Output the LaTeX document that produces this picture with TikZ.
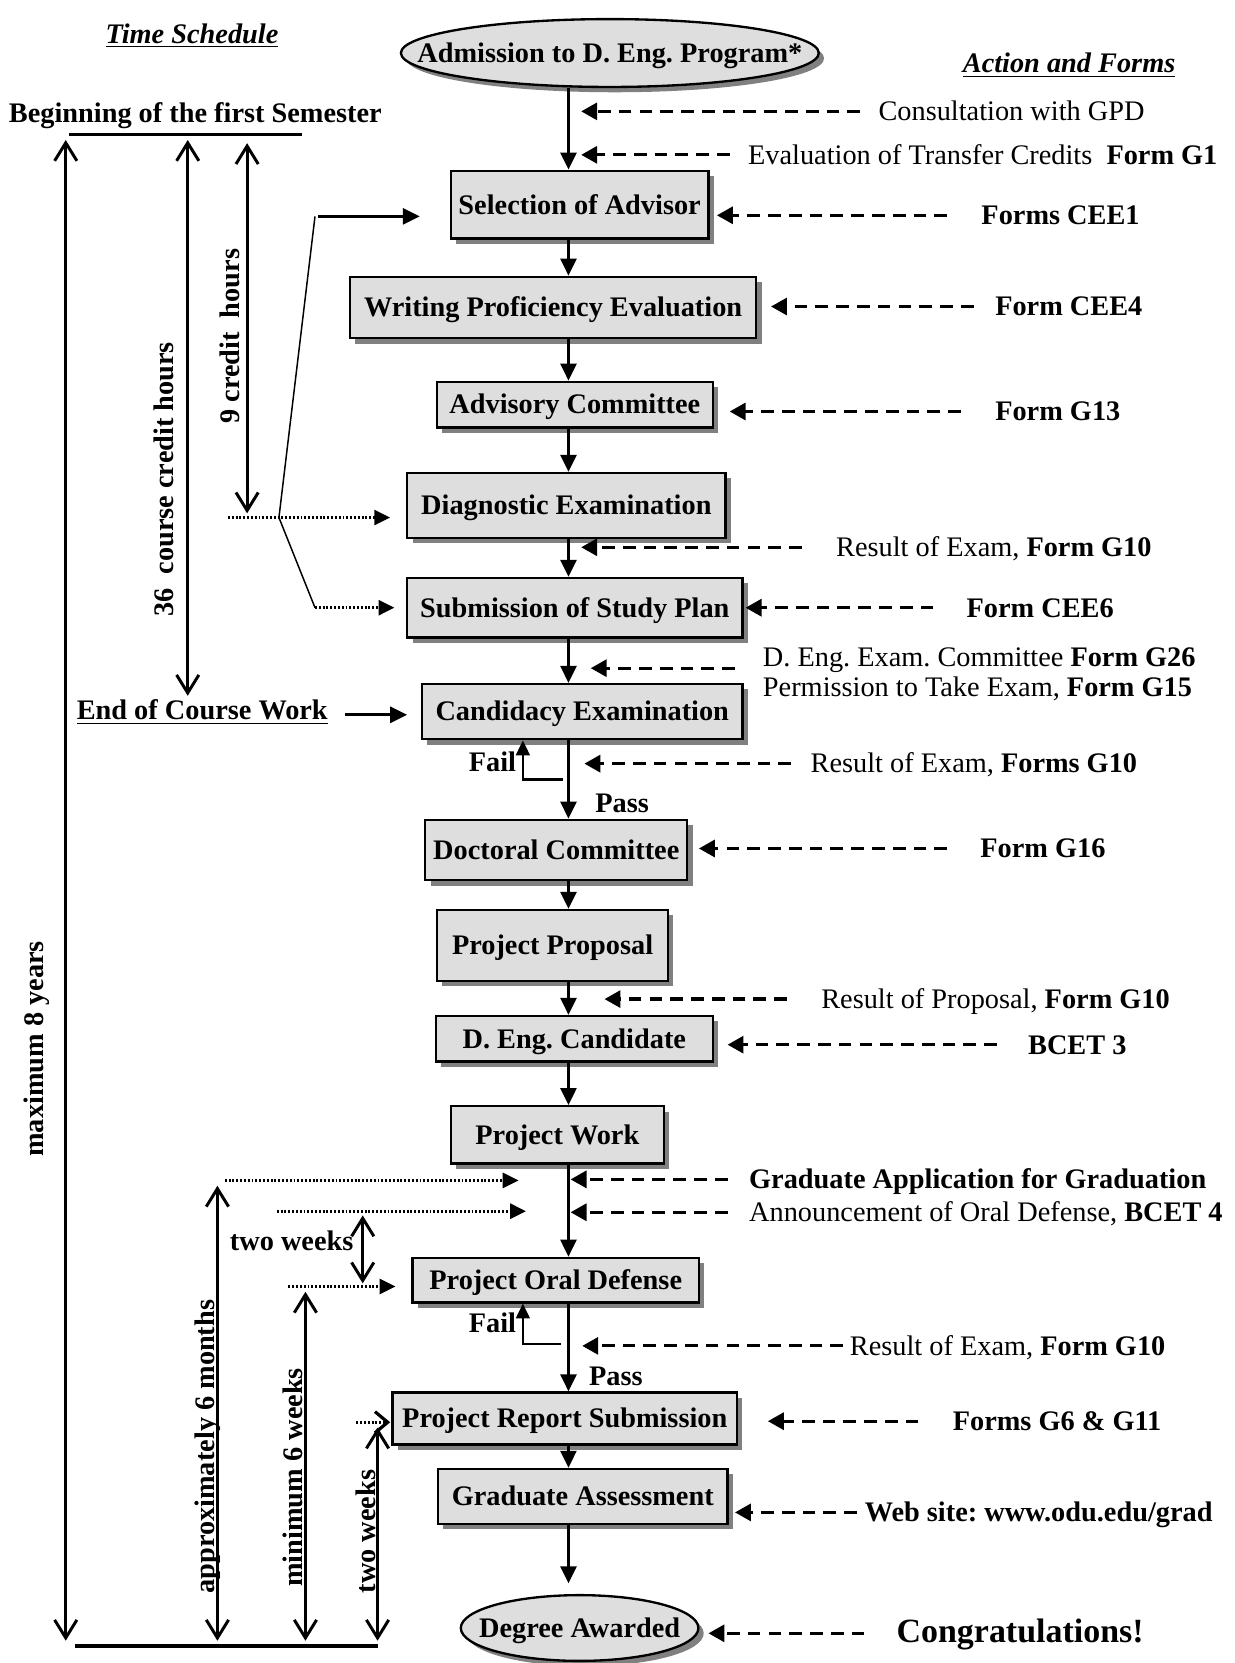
\documentclass[tikz,border=0pt]{standalone}
\usepackage{fontspec}
\setmainfont{Liberation Serif}
\usetikzlibrary{arrows.meta,shapes.geometric,shadows}
\definecolor{boxgray}{HTML}{DEDEDE}
\definecolor{shgray}{HTML}{808080}
\newcommand\msize{\fontsize{13.35}{16}\selectfont}
\newcommand\bsize{\fontsize{16}{19}\selectfont}
\frenchspacing
\tikzset{
  procbox/.style={rectangle, draw, line width=1.1pt, fill=boxgray, inner sep=0pt,
    font=\msize\bfseries, text height=11pt, text depth=2.2pt,
    drop shadow={shadow xshift=2.5pt, shadow yshift=-2.5pt, fill=shgray, opacity=1}},
  ovalbox/.style={ellipse, draw, line width=1.1pt, fill=boxgray, inner sep=0pt,
    font=\msize\bfseries, text height=11pt, text depth=2.2pt,
    drop shadow={shadow xshift=2.5pt, shadow yshift=-2.5pt, fill=shgray, opacity=1}},
  lab/.style={font=\msize, inner sep=0pt, text height=11pt, text depth=2.2pt},
  blab/.style={font=\msize\bfseries, inner sep=0pt, text height=11pt, text depth=2.2pt},
  flow/.style={line width=1.3pt, -{Triangle[length=8pt,width=7.5pt]}},
  failarr/.style={line width=1pt, -{Triangle[length=7pt,width=6.5pt]}},
  dasharr/.style={line width=1.5pt, dash pattern=on 6pt off 3.8pt, -{Triangle[length=7.5pt,width=8pt]}},
  dotarr/.style={line width=1.5pt, dash pattern=on 0.9pt off 0.9pt, -{Triangle[length=7.5pt,width=7pt]}},
  dotopen/.style={line width=1.5pt, dash pattern=on 0.9pt off 0.9pt, -{Straight Barb[length=6pt,width=10pt]}},
  timearr/.style={line width=1.4pt, {Straight Barb[length=8.5pt,width=10.5pt]}-{Straight Barb[length=8.5pt,width=10.5pt]}},
  rule/.style={line width=1.6pt},
  thin/.style={line width=0.7pt}
}
\begin{document}
\begin{tikzpicture}[x=0.5pt,y=-0.5pt]
\useasboundingbox (0,0) rectangle (1164,1568);
\fill[white] (0,0) rectangle (1164,1568);

% ---------- headings ----------
\node[blab, font=\msize\bfseries\itshape] (ts) at (181,32) {\underline{Time Schedule}};
\node[blab, font=\msize\bfseries\itshape] (af) at (1008,60) {\underline{Action and Forms}};
\node[blab, anchor=west] (beg) at (8,107) {Beginning of the first Semester};
\node[blab, anchor=west] (eoc) at (72,670) {\underline{End of Course Work}};

% ---------- main column ----------
\coordinate (cx) at (536,0);
\node[ovalbox, minimum width=197pt, minimum height=32pt] (adm) at (575,50) {\makebox[0pt][c]{Admission to D. Eng. Program*}};
\node[procbox, minimum width=121.5pt, minimum height=32pt] (sel) at (546.5,193) {Selection of Advisor};
\node[procbox, minimum width=191.5pt, minimum height=29pt] (wri) at (521.5,290) {Writing Proficiency Evaluation};
\node[procbox, minimum width=130pt, minimum height=21.5pt] (adv) at (542,381.5) {Advisory Committee};
\node[procbox, minimum width=150pt, minimum height=30.5pt] (dia) at (534,476.5) {Diagnostic Examination};
\node[procbox, minimum width=158pt, minimum height=28pt] (sub) at (542,573) {Submission of Study Plan};
\node[procbox, minimum width=151pt, minimum height=26pt] (can) at (549,671) {Candidacy Examination};
\node[procbox, minimum width=123.5pt, minimum height=28.5pt] (doc) at (524.5,801.5) {Doctoral Committee};
\node[procbox, minimum width=109pt, minimum height=33.5pt] (pro) at (521,891.5) {Project Proposal};
\node[procbox, minimum width=130.5pt, minimum height=21.5pt] (cand) at (541.5,979.5) {D. Eng. Candidate};
\node[procbox, minimum width=100.5pt, minimum height=27pt] (work) at (525.5,1070) {Project Work};
\node[procbox, minimum width=135pt, minimum height=21pt] (oral) at (524,1207) {Project Oral Defense};
\node[procbox, minimum width=162.5pt, minimum height=24.5pt] (rep) at (532.5,1337.5) {Project Report Submission};
\node[procbox, minimum width=136.5pt, minimum height=26pt] (ass) at (549.5,1411) {Graduate Assessment};
\node[ovalbox, minimum width=112pt, minimum height=31pt] (deg) at (546.5,1535) {\makebox[0pt][c]{Degree Awarded}};

\draw[flow] (adm.south -| cx) -- (sel.north -| cx);
\draw[flow] (sel.south -| cx) -- (wri.north -| cx);
\draw[flow] (wri.south -| cx) -- (adv.north -| cx);
\draw[flow] (adv.south -| cx) -- (dia.north -| cx);
\draw[flow] (dia.south -| cx) -- (sub.north -| cx);
\draw[flow] (sub.south -| cx) -- (can.north -| cx);
\draw[flow] (can.south -| cx) -- (doc.north -| cx);
\draw[flow] (doc.south -| cx) -- (pro.north -| cx);
\draw[flow] (pro.south -| cx) -- (cand.north -| cx);
\draw[flow] (cand.south -| cx) -- (work.north -| cx);
\draw[flow] (work.south -| cx) -- (oral.north -| cx);
\draw[flow] (oral.south -| cx) -- (rep.north -| cx);
\draw[flow] (rep.south -| cx) -- (ass.north -| cx);
\draw[flow, shorten >=5pt] (ass.south -| cx) -- (deg.north -| cx);

% fail loops
\coordinate (fx) at (493,0);
\coordinate (f1) at (531,735);
\draw[failarr] (f1) -| (can.south -| fx);
\node[blab, anchor=east] (fail1) at (487,719) {Fail};
\node[blab, anchor=west] (pass1) at (561,757) {Pass};
\coordinate (f2) at (529,1267);
\draw[failarr] (f2) -| (oral.south -| fx);
\node[blab, anchor=east] (fail2) at (487,1248) {Fail};
\node[blab, anchor=west] (pass2) at (555,1298) {Pass};

% ---------- right side: actions and forms ----------
\node[lab, anchor=west] (t1) at (828,105) {Consultation with GPD};
\coordinate (e1) at (548,105);
\draw[dasharr, shorten <=8.5pt] (t1.west) -- (e1);

\node[lab, anchor=west] (t2) at (705,146) {Evaluation of Transfer Credits\ \ \textbf{Form G1}};
\coordinate (e2) at (548,146);
\draw[dasharr, shorten <=8.5pt] (t2.west) -- (e2);

\node[blab, anchor=west] (t3) at (925,203) {Forms CEE1};
\coordinate (e3) at (676,203);
\draw[dasharr, shorten <=16pt] (t3.west) -- (e3);

\node[blab, anchor=west] (t4) at (938,289) {Form CEE4};
\coordinate (e4) at (727,289);
\draw[dasharr, shorten <=10pt] (t4.west) -- (e4);

\node[blab, anchor=west] (t5) at (938,388) {Form G13};
\coordinate (e5) at (688,388);
\draw[dasharr, shorten <=16pt] (t5.west) -- (e5);

\node[lab, anchor=west] (t6) at (788,516) {Result of Exam, \textbf{Form G10}};
\coordinate (e6) at (548,516);
\draw[dasharr, shorten <=16pt] (t6.west) -- (e6);

\node[blab, anchor=west] (t7) at (911,573) {Form CEE6};
\coordinate (e7) at (703,573);
\draw[dasharr, shorten <=15.5pt] (t7.west) -- (e7);

\node[lab, anchor=west] (t8a) at (719,620) {D. Eng. Exam. Committee \textbf{Form G26}};
\node[lab, anchor=west] (t8b) at (719,648) {Permission to Take Exam, \textbf{Form G15}};
\coordinate (e8) at (557,630);
\draw[dasharr, shorten <=13pt] (t8a.west |- e8) -- (e8);

\node[lab, anchor=west] (t9) at (764,720) {Result of Exam, \textbf{Forms G10}};
\coordinate (e9) at (551,720);
\draw[dasharr, shorten <=9pt] (t9.west) -- (e9);

\node[blab, anchor=west] (t10) at (924,800) {Form G16};
\coordinate (e10) at (659,800);
\draw[dasharr, shorten <=15.5pt] (t10.west) -- (e10);

\node[lab, anchor=west] (t11) at (774,942) {Result of Proposal, \textbf{Form G10}};
\coordinate (e11) at (570,942);
\draw[dasharr, shorten <=16pt] (t11.west) -- (e11);

\node[blab, anchor=west] (t12) at (969,985) {BCET 3};
\coordinate (e12) at (686,985);
\draw[dasharr, shorten <=14.5pt] (t12.west) -- (e12);

\node[blab, anchor=west] (t13) at (706,1112) {Graduate Application for Graduation};
\coordinate (e13) at (538,1112);
\draw[dasharr, shorten <=10pt] (t13.west) -- (e13);

\node[lab, anchor=west] (t14) at (706,1143) {Announcement of Oral Defense, \textbf{BCET 4}};
\coordinate (e14) at (538,1143);
\draw[dasharr, shorten <=10pt] (t14.west) -- (e14);

\node[lab, anchor=west] (t15) at (801,1269) {Result of Exam, \textbf{Form G10}};
\coordinate (e15) at (549,1269);
\draw[dasharr, shorten <=3pt] (t15.west) -- (e15);

\node[blab, anchor=west] (t16) at (898,1340) {Forms G6 \& G11};
\coordinate (e16) at (724,1340);
\draw[dasharr, shorten <=16pt] (t16.west) -- (e16);

\node[blab, anchor=west] (t17) at (815,1426) {Web site: www.odu.edu/grad};
\coordinate (e17) at (693,1426);
\draw[dasharr, shorten <=3.5pt] (t17.west) -- (e17);

\node[blab, anchor=west, font=\bsize\bfseries] (t18) at (845,1540) {Congratulations!};
\coordinate (e18) at (668,1540);
\draw[dasharr, shorten <=15pt] (t18.west) -- (e18);

% ---------- left side: time schedule ----------
\coordinate (topL) at (65,127);
\coordinate (topR) at (285,127);
\draw[rule] (topL) -- (topR);
\coordinate (botL) at (71,1552);
\coordinate (botR) at (356,1552);
\draw[rule] (botL) -- (botR);

\coordinate (a1) at (62,132);  \coordinate (a2) at (62,1547);
\draw[timearr] (a1) -- (a2);
\node[blab, rotate=90] (lmax) at (32,989) {maximum 8 years};

\coordinate (b1) at (177,132); \coordinate (b2) at (177,656);
\draw[timearr] (b1) -- (b2);
\node[blab, rotate=90] (l36) at (155,452) {36\ \ course credit hours};

\coordinate (c1) at (233,135); \coordinate (c2) at (233,484);
\draw[timearr] (c1) -- (c2);
\node[blab, rotate=90] (l9) at (217,317) {9 credit\ \ hours};

% bracket lines
\coordinate (br1) at (297,204);
\coordinate (br2) at (263,488);
\coordinate (br3) at (297,573);
\draw[thin] (br1) -- (br2) -- (br3);
\draw[flow, line width=1.4pt, shorten >=14pt] ([xshift=1.5pt]br1) -- (br1 -| sel.west);
\coordinate (dg0) at (215,488);
\draw[dotarr, shorten >=7.5pt] (dg0) -- (dg0 -| dia.west);
\draw[dotarr, shorten >=5.5pt] (br3) -- (br3 -| sub.west);
\draw[flow, line width=1.4pt, shorten <=8pt, shorten >=6.5pt] ([yshift=-2pt]eoc.east) -- ([yshift=-2pt]eoc.east -| can.west);

% lower time schedule
\coordinate (q1) at (212,1113);
\draw[dotarr, shorten >=23.5pt] (q1) -- (q1 -| cx);
\coordinate (q2) at (261,1142);
\draw[dotarr, shorten >=20pt] (q2) -- (q2 -| cx);
\coordinate (q3) at (272,1213);
\draw[dotarr, shorten >=7.5pt] (q3) -- (q3 -| oral.west);
\coordinate (q4) at (336,1341);
\draw[dotopen, shorten >=0.5pt] (q4) -- (q4 -| rep.west);

\coordinate (d1) at (205,1118); \coordinate (d2) at (205,1547);
\draw[timearr] (d1) -- (d2);
\node[blab, rotate=90] (l6m) at (193,1364) {approximately 6 months};

\coordinate (m1) at (288,1218); \coordinate (m2) at (288,1547);
\draw[timearr] (m1) -- (m2);
\node[blab, rotate=90] (l6w) at (276,1393) {minimum 6 weeks};

\coordinate (w1) at (356,1346); \coordinate (w2) at (356,1547);
\draw[timearr] (w1) -- (w2);
\node[blab, rotate=90] (l2w) at (345,1444) {two weeks};

\coordinate (g1) at (342,1146); \coordinate (g2) at (342,1210);
\draw[timearr] (g1) -- (g2);
\node[blab] (l2wh) at (275,1170) {two weeks};
\end{tikzpicture}
\end{document}
